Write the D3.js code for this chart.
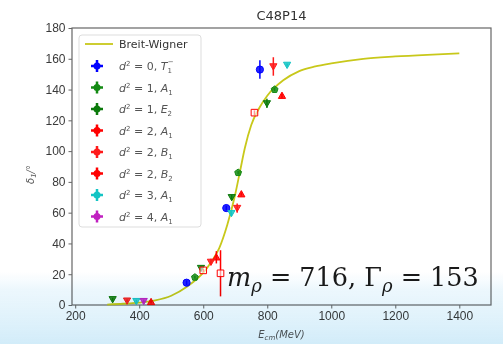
<!DOCTYPE html>
<html>
<head>
<meta charset="utf-8">
<script src="https://cdn.jsdelivr.net/npm/d3@7"></script>
<style>
  html, body { margin: 0; padding: 0; background: #fff; }
  svg { display: block; font-family: "DejaVu Sans", sans-serif; }
</style>
</head>
<body>
<div id="chart"></div>
<script>
// Breit-Wigner fit curve
const bwEnergy = [300, 350, 400, 450, 500, 550, 600, 625, 650, 675, 700, 716, 730, 750, 775, 800, 850, 900, 950, 1000, 1100, 1200, 1300, 1400];
const bwPhase  = [0.3, 0.8, 1.6, 3, 6, 12, 21, 28, 37, 52, 72, 88, 102, 117, 128, 136, 146, 152, 155, 157, 160, 161.5, 162.6, 163.5];

// lattice points per irrep: energy, phase, error
const s0Energy = [548, 672, 777];        const s0Phase = [14.5, 63, 153];      const s0Err = [1.5, 1.5, 6];
const s1Energy = [574, 709, 823];        const s1Phase = [18, 86, 140];        const s1Err = [1, 1, 1];
const s2Energy = [317, 593, 689, 799];   const s2Phase = [3.7, 24, 70, 131];   const s2Err = [1, 1, 1.5, 3];
const s3Energy = [437, 641, 719, 846];   const s3Phase = [2, 31, 72, 136];     const s3Err = [1, 4, 1, 1.5];
const s4Energy = [362, 624, 706, 819];   const s4Phase = [2.8, 28, 63, 155];   const s4Err = [1, 2, 3, 6];
const s5Energy = [600, 654, 760];        const s5Phase = [22.5, 20.6, 125];    const s5Err = [1, 15, 1.5];
const s6Energy = [391, 688, 862];        const s6Phase = [2.5, 59.7, 156];     const s6Err = [1, 2, 1];
const s7Energy = [414];                  const s7Phase = [2.5];                const s7Err = [1];

const xTicks = [200, 400, 600, 800, 1000, 1200, 1400];
const yTicks = [0, 20, 40, 60, 80, 100, 120, 140, 160, 180];

const series = [
  { d2: "0", irrep: "T", sub: "1", sup: "\u2212", color: "#0000ff", marker: "o", e: s0Energy, p: s0Phase, err: s0Err },
  { d2: "1", irrep: "A", sub: "1", color: "#138a13", marker: "p", e: s1Energy, p: s1Phase, err: s1Err },
  { d2: "1", irrep: "E", sub: "2", color: "#0b7a0b", marker: "v", e: s2Energy, p: s2Phase, err: s2Err },
  { d2: "2", irrep: "A", sub: "1", color: "#ff0000", marker: "^", e: s3Energy, p: s3Phase, err: s3Err },
  { d2: "2", irrep: "B", sub: "1", color: "#ff1a1a", marker: "v", e: s4Energy, p: s4Phase, err: s4Err },
  { d2: "2", irrep: "B", sub: "2", color: "#ff0000", marker: "s", e: s5Energy, p: s5Phase, err: s5Err },
  { d2: "3", irrep: "A", sub: "1", color: "#14c4c4", marker: "v", e: s6Energy, p: s6Phase, err: s6Err },
  { d2: "4", irrep: "A", sub: "1", color: "#c020c0", marker: "v", e: s7Energy, p: s7Phase, err: s7Err }
];

const W = 503, H = 344;
const margin = { top: 28, right: 12, bottom: 39, left: 72 };
const width = W - margin.left - margin.right;
const height = H - margin.top - margin.bottom;

const svg = d3.select("#chart").append("svg").attr("width", W).attr("height", H);

const defs = svg.append("defs");
const grad = defs.append("linearGradient").attr("id", "bg").attr("x1", 0).attr("y1", 0).attr("x2", 0).attr("y2", 1);
grad.append("stop").attr("offset", "0%").attr("stop-color", "#e4f4fc").attr("stop-opacity", 0);
grad.append("stop").attr("offset", "25%").attr("stop-color", "#e4f4fc").attr("stop-opacity", 0.7);
grad.append("stop").attr("offset", "100%").attr("stop-color", "#d2ecf9").attr("stop-opacity", 1);

svg.append("rect").attr("width", W).attr("height", H).attr("fill", "#fff");

const g = svg.append("g").attr("transform", `translate(${margin.left},${margin.top})`);

const x = d3.scaleLinear().domain([190, 1499]).range([0, width]);
const y = d3.scaleLinear().domain([0, 180]).range([height, 0]);

// axes
const xAxis = g.append("g").attr("transform", `translate(0,${height})`)
  .call(d3.axisBottom(x).tickValues(xTicks).tickSize(3.5).tickPadding(3).tickFormat(d3.format("d")));
const yAxis = g.append("g")
  .call(d3.axisLeft(y).tickValues(yTicks).tickSize(3.5).tickPadding(3).tickFormat(d3.format("d")));
[xAxis, yAxis].forEach(a => {
  a.select(".domain").remove();
  a.selectAll("line").attr("stroke", "#666");
  a.selectAll("text").attr("fill", "#3a3a3a").style("font-size", "12px");
});

g.append("rect").attr("width", width).attr("height", height)
  .attr("fill", "none").attr("stroke", "#666").attr("stroke-width", 1.2);

// fit curve
const line = d3.line().x(d => x(d[0])).y(d => y(d[1])).curve(d3.curveMonotoneX);
g.append("path")
  .datum(bwEnergy.map((e, i) => [e, bwPhase[i]]))
  .attr("d", line).attr("fill", "none").attr("stroke", "#c8c81a").attr("stroke-width", 1.8);

function markerPath(type, r) {
  if (type === "v") return `M${-r},${-r * 0.75}L${r},${-r * 0.75}L0,${r}Z`;
  if (type === "^") return `M${-r},${r * 0.75}L${r},${r * 0.75}L0,${-r}Z`;
  if (type === "s") return `M${-r},${-r}H${r}V${r}H${-r}Z`;
  if (type === "p") {
    const pts = d3.range(5).map(k => {
      const a = -Math.PI / 2 + k * 2 * Math.PI / 5;
      return [r * Math.cos(a), r * Math.sin(a)];
    });
    return "M" + pts.join("L") + "Z";
  }
  return d3.symbol().type(d3.symbolCircle).size(Math.PI * r * r)();
}

// data points with error bars
series.forEach(s => {
  const pts = s.e.map((e, i) => ({ e, p: s.p[i], err: s.err[i] }));
  const sg = g.append("g");
  sg.selectAll("line.err").data(pts).join("line")
    .attr("x1", d => x(d.e)).attr("x2", d => x(d.e))
    .attr("y1", d => y(d.p - d.err)).attr("y2", d => y(d.p + d.err))
    .attr("stroke", s.color).attr("stroke-width", 1.5);
  sg.selectAll("path.mk").data(pts).join("path")
    .attr("transform", d => `translate(${x(d.e)},${y(d.p)})`)
    .attr("d", markerPath(s.marker, s.marker === "s" ? 3.3 : 3.6))
    .attr("fill", s.marker === "s" ? "rgba(255,255,255,0.6)" : s.color)
    .attr("fill-opacity", s.marker === "s" ? 1 : 0.85)
    .attr("stroke", s.color).attr("stroke-width", 1);
});

// legend
const lg = g.append("g").attr("transform", `translate(${79 - margin.left},${35 - margin.top})`);
lg.append("rect").attr("width", 122).attr("height", 192).attr("rx", 3)
  .attr("fill", "#fff").attr("fill-opacity", 0.85).attr("stroke", "#ddd");
lg.append("line").attr("x1", 6).attr("x2", 34).attr("y1", 9).attr("y2", 9)
  .attr("stroke", "#c8c81a").attr("stroke-width", 1.8);
lg.append("text").attr("x", 40).attr("y", 13).attr("fill", "#333").style("font-size", "11px").text("Breit-Wigner");

series.forEach((s, i) => {
  const yy = 31 + i * 21.5;
  const row = lg.append("g").attr("transform", `translate(18,${yy})`);
  row.append("line").attr("x1", 0).attr("x2", 0).attr("y1", -6).attr("y2", 6).attr("stroke", s.color).attr("stroke-width", 2.5);
  row.append("line").attr("x1", -6).attr("x2", 6).attr("y1", 0).attr("y2", 0).attr("stroke", s.color).attr("stroke-width", 2.5);
  row.append("circle").attr("r", 3.5).attr("fill", s.color);
  const t = lg.append("text").attr("x", 40).attr("y", yy + 4).attr("fill", "#555")
    .style("font-size", "11px").style("font-style", "italic");
  t.append("tspan").text("d");
  t.append("tspan").attr("dy", -4).style("font-size", "7px").style("font-style", "normal").text("2");
  t.append("tspan").attr("dy", 4).style("font-style", "normal").text(` = ${s.d2}, `);
  t.append("tspan").text(s.irrep);
  t.append("tspan").attr("dy", 3).style("font-size", "7px").style("font-style", "normal").text(s.sub);
  if (s.sup) t.append("tspan").attr("dx", -4).attr("dy", -9).style("font-size", "7px").style("font-style", "normal").text(s.sup);
});

// annotation
const ann = g.append("text").attr("x", 227 - margin.left).attr("y", 286 - margin.top)
  .attr("fill", "#1a1a1a").style("font-family", "'DejaVu Serif', 'Liberation Serif', serif").style("font-size", "25.5px");
ann.append("tspan").style("font-style", "italic").text("m");
ann.append("tspan").attr("dy", 6).style("font-size", "18px").style("font-style", "italic").text("\u03c1");
ann.append("tspan").attr("dy", -6).text(" = 716, \u0393");
ann.append("tspan").attr("dy", 6).style("font-size", "18px").style("font-style", "italic").text("\u03c1");
ann.append("tspan").attr("dy", -6).text(" = 153");

// title and axis labels
svg.append("text").attr("x", margin.left + width / 2).attr("y", 20).attr("text-anchor", "middle")
  .attr("fill", "#333").style("font-size", "13px").text("C48P14");

const xl = svg.append("text").attr("x", margin.left + width / 2).attr("y", 338).attr("text-anchor", "middle")
  .attr("fill", "#555").style("font-size", "10px").style("font-style", "italic");
xl.append("tspan").text("E");
xl.append("tspan").attr("dy", 2).style("font-size", "7px").text("cm");
xl.append("tspan").attr("dy", -2).text("(MeV)");

const yl = svg.append("text").attr("transform", `translate(34,${margin.top + height / 2 + 8}) rotate(-90)`)
  .attr("text-anchor", "middle").attr("fill", "#555").style("font-size", "10px").style("font-style", "italic");
yl.append("tspan").text("\u03b4");
yl.append("tspan").attr("dy", 2).style("font-size", "7px").text("1");
yl.append("tspan").attr("dy", -2).text("/\u00b0");

// slide background tint at the bottom
svg.append("rect").attr("x", 0).attr("y", 272).attr("width", W).attr("height", H - 272)
  .attr("fill", "url(#bg)").style("mix-blend-mode", "multiply").attr("pointer-events", "none");
</script>
</body>
</html>
